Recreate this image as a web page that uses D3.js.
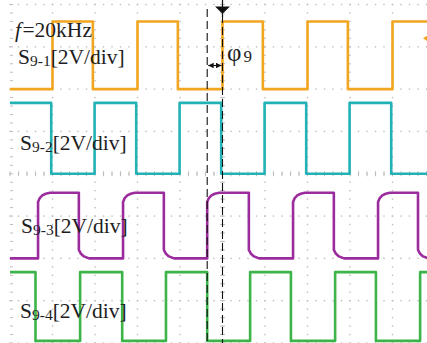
<!DOCTYPE html>
<html>
<head>
<meta charset="utf-8">
<script src="https://cdn.jsdelivr.net/npm/d3@7"></script>
<style>
  body { margin: 0; background: #fff; }
  svg { display: block; }
</style>
</head>
<body>
<svg id="scope" width="427" height="343"></svg>
<script>
// time axis in divisions (10 div across), voltage in volts at 2 V/div
const channelNames = ['9-1', '9-2', '9-3', '9-4'];
const channelColors = ['#f2a51f', '#22b2b6', '#9c2c9e', '#3cb449'];
const channelOffsets = [2, 0, -2, -4];     // ground level of each trace, in div
const channelLow = [0, 0, 0, 0.1];         // V
const channelHigh = [3.2, 3.35, 3.1, 3.35]; // V
const startHigh = [false, true, false, true];

// edge times (div)
const s1Rise = [1.0, 3.0, 5.0, 7.0, 9.0];
const s1Fall = [1.95, 3.95, 5.95, 7.95];
const s2Fall = [0.97, 2.97, 4.97, 6.97, 8.97];
const s2Rise = [1.99, 3.99, 5.99, 7.99];
const s3Rise = [0.66, 2.66, 4.64, 6.66, 8.66];
const s3Fall = [1.62, 3.62, 5.62, 7.62, 9.6];
const s4Fall = [0.6, 2.64, 4.64, 6.61, 8.61];
const s4Rise = [1.65, 3.67, 5.65, 7.65, 9.65];
const rises = [s1Rise, s2Rise, s3Rise, s4Rise];
const falls = [s1Fall, s2Fall, s3Fall, s4Fall];

// edge shapes: [dt (div), fraction of swing]
const sharpRise = [[0, 0], [0, 1]];
const sharpFall = [[0, 1], [0, 0]];
const slowRise = [[0, 0], [0, 0.86], [0.04, 0.92], [0.1, 0.96], [0.18, 0.985], [0.28, 1]];
const slowFall = [[0, 1], [0, 0.13], [0.05, 0.07], [0.12, 0.03], [0.24, 0]];
const riseShapes = [sharpRise, sharpRise, slowRise, sharpRise];
const fallShapes = [sharpFall, sharpFall, slowFall, sharpFall];

const cursorTimes = [4.64, 5.0];  // phase cursors (div)

const W = 427, H = 343;
const x = d3.scaleLinear().domain([0, 10]).range([10, 435]);
const y = d3.scaleLinear().domain([4, -4]).range([4.5, 343]);

const svg = d3.select('#scope');
const clip = svg.append('defs').append('clipPath').attr('id', 'screen');
clip.append('rect').attr('x', 0).attr('y', 0).attr('width', W).attr('height', H);

// graticule dots
const minorX = d3.range(0, 50.01, 1).map(i => i / 5);
const minorY = d3.range(-20, 20.01, 1).map(i => i / 5);
const grid = svg.append('g').attr('fill', '#bdbdbd');
d3.range(1, 10).forEach(k => {
  grid.selectAll(null).data(minorY).join('rect')
    .attr('x', x(k) - 0.7).attr('y', d => y(d) - 0.7)
    .attr('width', 1.4).attr('height', 1.4);
});
d3.range(-4, 5).forEach(k => {
  grid.selectAll(null).data(minorX).join('rect')
    .attr('x', d => x(d) - 0.7).attr('y', y(k) - 0.7)
    .attr('width', 1.4).attr('height', 1.4);
});

// centre axes and left edge tick marks
const ticks = svg.append('g').attr('stroke', '#bdbdbd').attr('stroke-width', 1);
ticks.selectAll(null).data(minorX).join('line')
  .attr('x1', d => x(d)).attr('x2', d => x(d))
  .attr('y1', y(0) - 2.5).attr('y2', y(0) + 2.5);
ticks.selectAll(null).data(minorY).join('line')
  .attr('y1', d => y(d)).attr('y2', d => y(d))
  .attr('x1', x(5) - 2.5).attr('x2', x(5) + 2.5);
ticks.selectAll(null).data(minorY).join('line')
  .attr('y1', d => y(d)).attr('y2', d => y(d))
  .attr('x1', x(0)).attr('x2', x(0) + 3);

// traces
function tracePoints(c) {
  const ev = rises[c].map(t => ({ t, shape: riseShapes[c] }))
    .concat(falls[c].map(t => ({ t, shape: fallShapes[c] })))
    .sort((a, b) => a.t - b.t);
  const lvl = f => channelOffsets[c] + (channelLow[c] + f * (channelHigh[c] - channelLow[c])) / 2;
  const pts = [[0, lvl(startHigh[c] ? 1 : 0)]];
  ev.forEach(e => e.shape.forEach(([dt, f]) => pts.push([e.t + dt, lvl(f)])));
  pts.push([10, pts[pts.length - 1][1]]);
  return pts;
}
const line = d3.line().x(d => x(d[0])).y(d => y(d[1]));
const traces = svg.append('g').attr('clip-path', 'url(#screen)');
channelNames.forEach((n, c) => {
  traces.append('path')
    .attr('d', line(tracePoints(c)))
    .attr('fill', 'none')
    .attr('stroke', channelColors[c])
    .attr('stroke-width', 2.6)
    .attr('stroke-linejoin', 'round');
});

// phase cursors
svg.append('g').selectAll('line').data(cursorTimes).join('line')
  .attr('x1', d => x(d)).attr('x2', d => x(d))
  .attr('y1', (d, i) => i ? 15 : 9).attr('y2', H)
  .attr('stroke', '#111').attr('stroke-width', 1.1)
  .attr('stroke-dasharray', '8,4');

// trigger marker
const tx = x(cursorTimes[1]);
svg.append('path')
  .attr('d', `M${tx - 6},7 L${tx + 6},7 L${tx},13 Z M${tx},0 L${tx},17`)
  .attr('fill', '#111').attr('stroke', '#111').attr('stroke-width', 1.2);

// channel 1 marker at right edge
svg.append('path')
  .attr('d', `M${W - 4},${y(3.2)} L${W + 2},${y(3.2) - 4} L${W + 2},${y(3.2) + 4} Z`)
  .attr('fill', channelColors[0]);

// phase arrow
const defs = svg.select('defs');
defs.append('marker').attr('id', 'ah').attr('viewBox', '0 -5 10 10')
  .attr('refX', 10).attr('refY', 0).attr('markerWidth', 5).attr('markerHeight', 5)
  .attr('orient', 'auto-start-reverse')
  .append('path').attr('d', 'M0,-5L10,0L0,5Z').attr('fill', '#111');
svg.append('line')
  .attr('x1', x(cursorTimes[0]) + 1).attr('x2', x(cursorTimes[1]) - 1)
  .attr('y1', 65.5).attr('y2', 65.5)
  .attr('stroke', '#111').attr('stroke-width', 1.1)
  .attr('marker-start', 'url(#ah)').attr('marker-end', 'url(#ah)');

// labels
const font = '"Liberation Serif", "Times New Roman", serif';
const labels = svg.append('g').attr('font-family', font).attr('fill', '#1e1e1e');
const fLabel = labels.append('text').attr('x', 15).attr('y', 36.5).attr('font-size', 21.5);
fLabel.append('tspan').attr('font-style', 'italic').text('f');
fLabel.append('tspan').attr('dx', 1.5).text('=20kHz');

const labelPos = [[18, 63.5], [20, 150], [21, 233], [20, 318]];
channelNames.forEach((n, c) => {
  const t = labels.append('text').attr('x', labelPos[c][0]).attr('y', labelPos[c][1]).attr('font-size', 21.5);
  t.append('tspan').text('S');
  t.append('tspan').attr('font-size', 15.5).attr('dy', 2).text(n);
  t.append('tspan').attr('dy', -2).text('[2V/div]');
});

const phi = labels.append('text').attr('x', 227).attr('y', 61).attr('font-size', 25);
phi.append('tspan').text('φ');
phi.append('tspan').attr('font-size', 17).attr('dx', 2).attr('dy', 1).text('9');
</script>
</body>
</html>
